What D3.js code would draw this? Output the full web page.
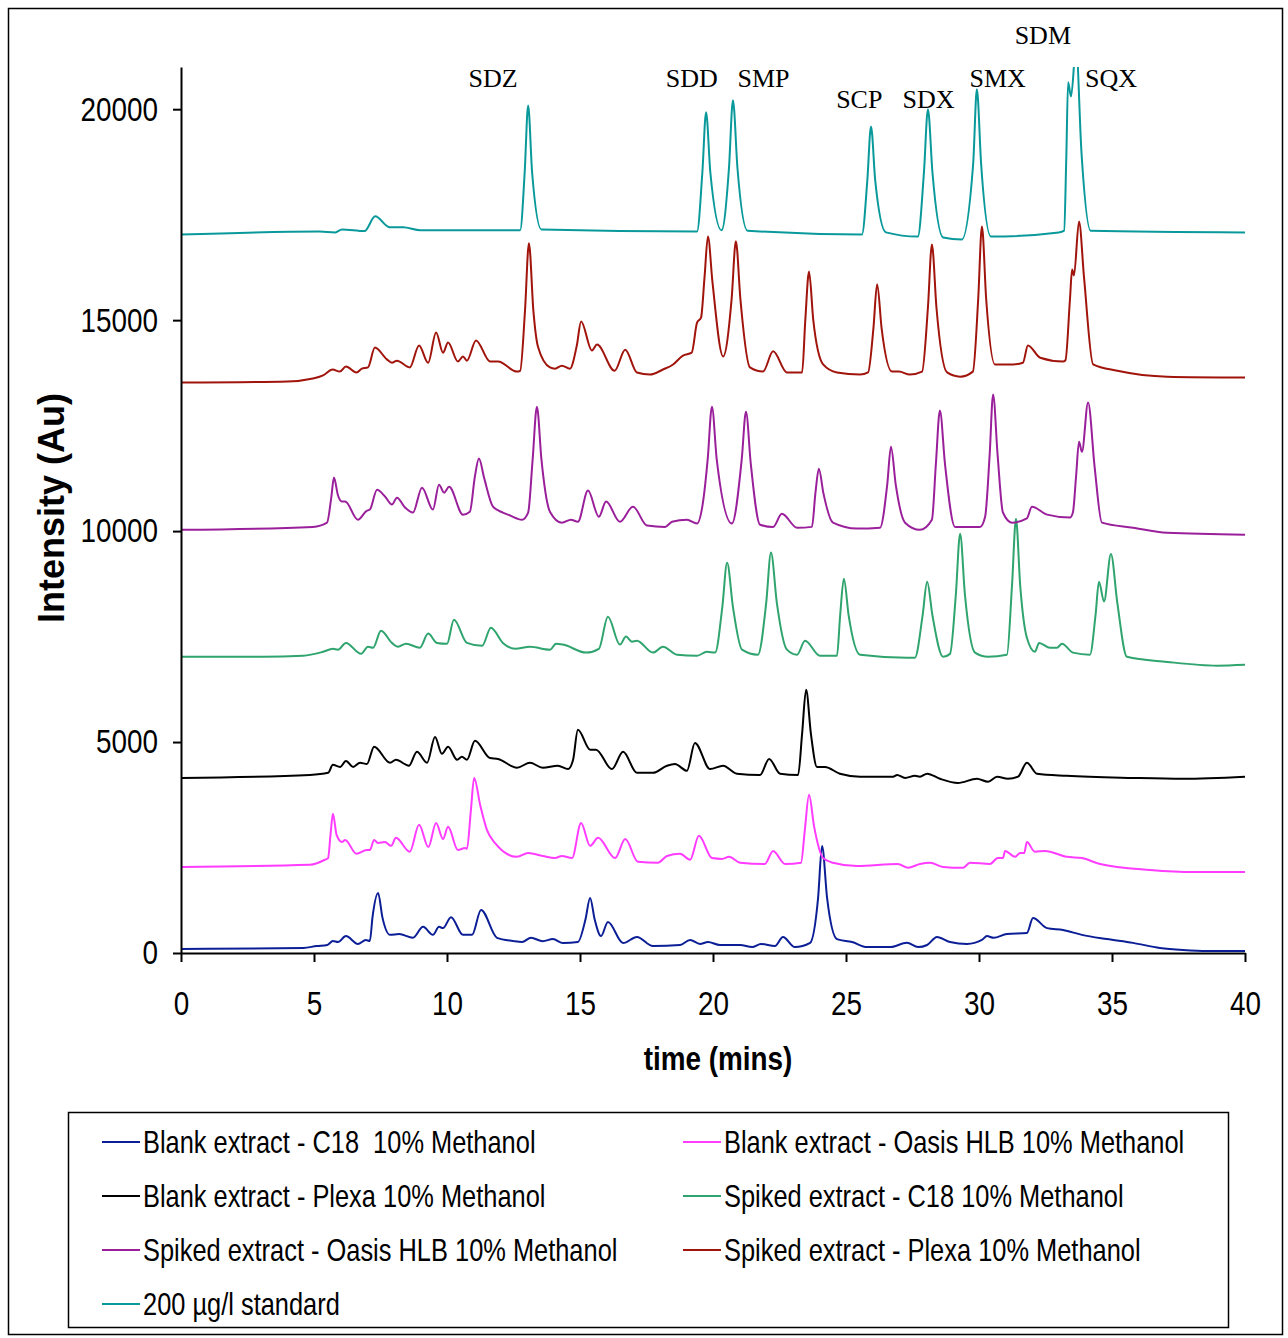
<!DOCTYPE html>
<html>
<head>
<meta charset="utf-8">
<script src="https://cdn.jsdelivr.net/npm/d3@7"></script>
<style>
	body { margin: 0; background: #fff; }
	.axis text { font-family: "Liberation Sans", Arial, sans-serif; font-size: 34px; fill: #000; }
	.axis path, .axis line { stroke: #000; stroke-width: 2px; }
	.trace { fill: none; stroke-width: 2px; stroke-linejoin: round; }
	.legend text { font-family: "Liberation Sans", Arial, sans-serif; font-size: 31px; white-space: pre; }
	.peak { font-family: "Liberation Serif", "Times New Roman", serif; font-size: 26px; }
</style>
</head>
<body>
<script>

// chromatogram traces, [time (mins), intensity (Au)]
var blankC18 = [[0,95],[4.6,120],[5.1,165],[5.5,190],[5.71,285],[5.9,260],[6.2,400],[6.65,215],[6.95,310],[7.1,285],
	[7.2,850],[7.41,1420],[7.57,850],[7.86,430],[8.2,450],[8.72,360],[9.1,620],[9.47,430],[9.7,620],[9.85,590],
	[10.15,850],[10.6,430],[10.94,430],[11.28,1020],[11.88,360],[12.48,285],[12.82,260],[13.16,360],[13.6,280],
	[13.98,330],[14.36,235],[14.92,260],[15.2,780],[15.38,1305],[15.55,800],[15.79,400],[16.05,735],[16.62,235],
	[17.14,380],[17.74,165],[18.76,190],[19.14,310],[19.51,215],[19.81,260],[20.26,190],[21.02,190],[21.47,140],
	[21.8,215],[22.33,165],[22.63,380],[23.08,140],[23.65,240],[23.95,1300],[24.1,2538],[24.29,1300],[24.66,330],
	[25.23,260],[25.79,140],[26.65,140],[27.29,240],[27.71,140],[28.05,190],[28.42,380],[28.91,260],[29.55,215],
	[30.11,310],[30.3,400],[30.55,360],[31.05,450],[31.8,475],[32.03,830],[32.56,590],[33.16,545],[33.87,430],
	[34.81,330],[35.79,240],[36.8,120],[37.67,70],[38.57,45],[40,45]];

var blankOasis = [[0,2040],[4.85,2090],[5.41,2210],[5.53,2250],[5.62,2800],[5.71,3300],[5.85,2800],[6.05,2630],
	[6.17,2680],[6.6,2350],[6.98,2440],[7.1,2440],[7.26,2680],[7.4,2610],[7.67,2630],[7.9,2540],[8.08,2730],
	[8.6,2400],[8.95,3040],[9.3,2510],[9.59,3080],[9.85,2700],[10.04,2990],[10.41,2440],[10.68,2490],[10.75,2470],
	[10.9,3400],[11.02,4150],[11.25,3500],[11.5,2920],[11.8,2610],[12.63,2280],[13.05,2370],[13.6,2300],[14.06,2250],
	[14.32,2300],[14.7,2250],[15.04,3080],[15.38,2540],[15.68,2730],[16.32,2250],[16.7,2700],[17.18,2160],[17.93,2140],
	[18.27,2300],[18.76,2350],[19.14,2210],[19.47,2780],[19.96,2250],[20.34,2230],[20.6,2280],[21.02,2140],[21.95,2110],
	[22.26,2420],[22.71,2110],[23.31,2140],[23.45,2900],[23.61,3750],[23.8,3000],[24.14,2250],[24.51,2140],[25.41,2060],
	[26.95,2110],[27.33,2020],[27.78,2110],[28.16,2140],[28.65,2040],[29.4,2020],[29.66,2140],[30.41,2110],[30.71,2250],
	[30.9,2250],[30.98,2420],[31.35,2280],[31.55,2370],[31.7,2370],[31.8,2630],[32.1,2400],[32.48,2420],[33.3,2280],
	[33.87,2250],[34.55,2110],[36.43,1970],[38.05,1920],[40,1920]];

var blankPlexa = [[0,4150],[4.85,4220],[5.53,4270],[5.71,4460],[5.98,4410],[6.2,4550],[6.47,4410],[6.73,4510],
	[6.99,4480],[7.26,4890],[7.86,4510],[8.08,4580],[8.57,4440],[8.87,4770],[9.25,4510],[9.55,5120],[9.81,4720],
	[10.04,4890],[10.38,4580],[10.56,4650],[10.75,4580],[11.05,5030],[11.62,4620],[11.92,4600],[12.63,4390],[13.12,4510],
	[13.6,4390],[14.17,4440],[14.55,4360],[14.74,4580],[14.92,5290],[15.38,4820],[15.6,4820],[16.2,4360],[16.62,4770],
	[17.14,4270],[17.74,4270],[18.27,4440],[18.57,4480],[19.02,4320],[19.32,4980],[19.89,4360],[20.38,4440],[20.9,4250],
	[21.77,4220],[22.11,4600],[22.52,4250],[23.2,4220],[23.35,5200],[23.5,6240],[23.68,5200],[23.91,4410],[24.21,4410],
	[24.77,4250],[25.53,4180],[26.77,4180],[26.92,4220],[27.22,4150],[27.59,4200],[27.78,4180],[28.05,4250],[28.53,4130],
	[29.21,4030],[29.92,4130],[30.34,4060],[30.68,4180],[31.09,4130],[31.47,4180],[31.8,4510],[32.18,4250],[33.3,4200],
	[35.79,4150],[37.67,4130],[40,4180]];

var spikedC18 = [[0,7020],[3.08,7020],[4.59,7045],[5.34,7140],[5.71,7210],[5.9,7190],[6.2,7350],[6.77,7090],
	[7.03,7260],[7.22,7235],[7.52,7640],[7.93,7350],[8.16,7260],[8.46,7330],[8.98,7235],[9.29,7570],[9.62,7350],
	[10.0,7330],[10.26,7900],[10.75,7350],[11.32,7280],[11.65,7710],[12.1,7350],[12.56,7210],[13.12,7260],[13.87,7190],
	[14.1,7330],[14.36,7310],[15.23,7120],[15.71,7210],[16.05,7970],[16.5,7310],[16.73,7500],[16.95,7380],[17.14,7400],
	[17.74,7120],[18.12,7260],[18.65,7070],[19.4,7045],[19.77,7140],[20.08,7120],[20.35,8200],[20.53,9250],[20.75,8200],
	[21.09,7190],[21.69,7070],[22.0,8300],[22.18,9490],[22.4,8300],[22.78,7190],[23.16,7070],[23.46,7400],[24.02,7045],
	[24.66,7045],[24.78,8000],[24.92,8870],[25.1,8000],[25.53,7070],[27.29,7000],[27.59,7000],[27.88,8000],[28.05,8800],
	[28.25,8000],[28.65,7020],[28.91,7090],[29.13,8500],[29.29,9940],[29.47,8500],[29.85,7120],[30.34,7020],[31.05,7070],
	[31.24,8700],[31.39,10290],[31.55,8700],[31.8,7470],[32.1,7140],[32.26,7350],[32.67,7235],[32.93,7235],[33.12,7330],
	[33.53,7120],[34.17,7070],[34.38,8000],[34.51,8800],[34.7,8330],[34.96,9460],[35.2,8300],[35.56,7020],[37.07,6900],
	[38.95,6810],[40,6830]];

var spikedOasis = [[0,10030],[4.96,10100],[5.49,10200],[5.65,10800],[5.75,11270],[5.9,10850],[6.05,10700],[6.17,10700],
	[6.65,10270],[6.98,10480],[7.1,10510],[7.37,10980],[7.67,10820],[7.93,10630],[8.12,10790],[8.42,10560],[8.72,10440],
	[9.06,11030],[9.47,10510],[9.7,11100],[9.89,10910],[10.08,11050],[10.6,10390],[10.86,10460],[11.05,11300],[11.2,11720],
	[11.4,11250],[11.73,10580],[12.1,10440],[12.37,10370],[12.82,10270],[13.05,10440],[13.22,11700],[13.38,12950],
	[13.55,11700],[13.87,10460],[14.32,10200],[14.66,10270],[14.92,10220],[15.3,10960],[15.71,10340],[15.98,10700],
	[16.5,10220],[16.99,10580],[17.52,10130],[18.2,10100],[18.46,10220],[19.02,10270],[19.4,10180],[19.62,10670],
	[19.8,11700],[19.96,12950],[20.14,11700],[20.71,10180],[21.08,11700],[21.24,12830],[21.42,11600],[21.77,10150],
	[22.26,10100],[22.59,10410],[23.16,10080],[23.72,10100],[23.85,10900],[23.98,11480],[24.15,10900],[24.51,10200],
	[25.41,10060],[26.28,10080],[26.55,11100],[26.69,12000],[26.87,11100],[27.22,10200],[27.78,10030],[28.23,10270],
	[28.38,11600],[28.53,12860],[28.72,11600],[29.1,10100],[30.04,10100],[30.23,10340],[30.4,11800],[30.53,13240],
	[30.7,11800],[30.9,10440],[31.24,10200],[31.8,10300],[31.99,10580],[32.56,10390],[33.42,10320],[33.53,10440],
	[33.65,11300],[33.76,12120],[33.87,11880],[34.1,13050],[34.35,11500],[34.62,10200],[35.79,10080],[37.07,9960],[40,9915]];

var spikedPlexa = [[0,13520],[4.0,13545],[4.96,13615],[5.34,13690],[5.7,13830],[5.97,13780],[6.2,13900],[6.6,13760],
	[6.8,13850],[7.03,13880],[7.29,14350],[7.74,14070],[7.93,13990],[8.12,14040],[8.6,13880],[8.95,14400],[9.29,13990],
	[9.59,14710],[9.85,14230],[10.04,14470],[10.41,14020],[10.6,14140],[10.75,14040],[11.09,14520],[11.62,14020],
	[11.92,14020],[12.63,13780],[12.75,13800],[12.93,15200],[13.08,16820],[13.25,15200],[13.42,14370],[13.87,13880],
	[14.06,13850],[14.32,13920],[14.62,13850],[14.88,14400],[15.04,14970],[15.45,14280],[15.64,14420],[16.3,13800],
	[16.7,14300],[17.14,13760],[17.63,13710],[18.12,13830],[18.5,13950],[18.87,14160],[19.2,14230],[19.4,14940],
	[19.55,15060],[19.68,16000],[19.81,16980],[19.98,15900],[20.38,14140],[20.7,15500],[20.86,16870],[21.03,15500],
	[21.39,13880],[21.88,13780],[22.26,14260],[22.78,13760],[23.35,13760],[23.47,15000],[23.61,16150],[23.77,15000],
	[24.14,13950],[24.66,13760],[25.53,13710],[25.83,13760],[26.03,14800],[26.17,15850],[26.34,14800],[26.73,13780],
	[26.99,13780],[27.4,13710],[27.86,13780],[28.08,15300],[28.23,16790],[28.4,15300],[28.8,13760],[29.29,13660],
	[29.77,13780],[29.97,15500],[30.11,17220],[30.27,15500],[30.6,13950],[31.28,13950],[31.65,13990],[31.84,14400],
	[32.3,14110],[33.16,14020],[33.25,14050],[33.42,15500],[33.5,16200],[33.57,16060],[33.76,17340],[33.95,16000],
	[34.29,13950],[35.2,13800],[37.07,13660],[40,13640]];

var standard200 = [[0,17030],[5.2,17100],[5.8,17080],[6.05,17150],[6.9,17110],[7.3,17460],[7.85,17200],[8.35,17200],
	[9.0,17130],[12.75,17130],[12.92,18500],[13.05,20090],[13.2,18500],[13.55,17150],[19.4,17100],[19.6,18500],
	[19.74,19930],[19.9,18500],[20.32,17130],[20.6,18600],[20.75,20210],[20.92,18600],[21.3,17120],[25.6,17030],
	[25.8,18300],[25.94,19590],[26.1,18300],[26.5,17080],[27.7,16980],[27.93,18500],[28.08,20000],[28.25,18500],
	[28.65,16960],[29.35,16910],[29.78,18700],[29.92,20470],[30.08,18700],[30.45,16980],[33.0,17080],[33.2,17120],
	[33.28,18800],[33.35,20640],[33.46,20300],[33.65,21500],[33.85,19000],[34.2,17120],[40,17080]];

var seriesNames = ["Blank extract - C18  10% Methanol", "Blank extract - Oasis HLB 10% Methanol",
	"Blank extract - Plexa 10% Methanol", "Spiked extract - C18 10% Methanol",
	"Spiked extract - Oasis HLB 10% Methanol", "Spiked extract - Plexa 10% Methanol", "200 \u00b5g/l standard"];
var seriesData = [blankC18, blankOasis, blankPlexa, spikedC18, spikedOasis, spikedPlexa, standard200];
var seriesColors = ["#0b1e96", "#ff3cff", "#000000", "#2fa46e", "#9a1f9a", "#a0140c", "#0a999b"];

// peak annotations: name, retention time and the level the label sits at
var peakNames = ["SDZ", "SDD", "SMP", "SCP", "SDX", "SMX", "SDM", "SQX"];
var peakTimes = [11.73, 19.2, 21.9, 25.5, 28.1, 30.7, 32.4, 34.96];
var peakLevels = [20750, 20750, 20750, 20250, 20250, 20750, 21770, 20750];

var xTicks = [0, 5, 10, 15, 20, 25, 30, 35, 40];
var yTicks = [0, 5000, 10000, 15000, 20000];

var W = 1288, H = 1338;
var plot = {left: 181, right: 1245, top: 67, bottom: 953};
var NARROW = 0.82;	// no Arial Narrow here, so squeeze Liberation Sans

// squeeze text horizontally, keeping its anchor where it was
function narrow(sel) {
	sel.each(function() {
		var t = d3.select(this);
		var x = +t.attr("x") || 0;
		t.attr("x", x / NARROW).attr("transform", "scale(" + NARROW + ",1)");
	});
}

var svg = d3.select("body").append("svg")
	.attr("width", W)
	.attr("height", H);

// outer frame
svg.append("rect")
	.attr("x", 8.5).attr("y", 8.5)
	.attr("width", 1274).attr("height", 1326)
	.attr("fill", "none").attr("stroke", "#000").attr("stroke-width", 1.5);

var xScale = d3.scaleLinear().domain([0, 40]).range([plot.left, plot.right]);
var yScale = d3.scaleLinear().domain([0, 21000]).range([plot.bottom, plot.top]);

svg.append("defs").append("clipPath").attr("id", "plotclip")
	.append("rect")
	.attr("x", plot.left).attr("y", plot.top)
	.attr("width", plot.right - plot.left).attr("height", plot.bottom - plot.top);

var line = d3.line()
	.x(function(d) { return xScale(d[0]); })
	.y(function(d) { return yScale(d[1]); })
	.curve(d3.curveMonotoneX);

var traces = svg.append("g").attr("clip-path", "url(#plotclip)");
seriesData.forEach(function(s, i) {
	traces.append("path")
		.datum(s)
		.attr("class", "trace")
		.attr("stroke", seriesColors[i])
		.attr("d", line);
});

// axes
var xAxis = svg.append("g")
	.attr("class", "axis")
	.attr("transform", "translate(0," + plot.bottom + ")")
	.call(d3.axisBottom(xScale).tickValues(xTicks).tickSize(9).tickSizeOuter(0).tickPadding(29).tickFormat(d3.format("d")));
narrow(xAxis.selectAll("text"));

var yAxis = svg.append("g")
	.attr("class", "axis")
	.attr("transform", "translate(" + plot.left + ",0)")
	.call(d3.axisLeft(yScale).tickValues(yTicks).tickSize(8).tickSizeOuter(0).tickPadding(15).tickFormat(d3.format("d")));
narrow(yAxis.selectAll("text"));

svg.append("text")
	.attr("x", 718).attr("y", 1070)
	.attr("text-anchor", "middle")
	.style("font-family", "'Liberation Sans', Arial, sans-serif")
	.style("font-weight", "bold").style("font-size", "34px")
	.text("time (mins)")
	.call(narrow);

svg.append("text")
	.attr("transform", "translate(64,508) rotate(-90)")
	.attr("text-anchor", "middle")
	.style("font-family", "'Liberation Sans', Arial, sans-serif")
	.style("font-weight", "bold").style("font-size", "36px")
	.text("Intensity (Au)");

// peak labels
svg.selectAll(".peak")
	.data(peakNames)
	.enter().append("text")
	.attr("class", "peak")
	.attr("x", function(d, i) { return xScale(peakTimes[i]); })
	.attr("y", function(d, i) { return yScale(peakLevels[i]) + 9; })
	.attr("text-anchor", "middle")
	.text(function(d) { return d; });

// legend
var legend = svg.append("g").attr("class", "legend");
legend.append("rect")
	.attr("x", 68.5).attr("y", 1112.5)
	.attr("width", 1160).attr("height", 215)
	.attr("fill", "none").attr("stroke", "#000").attr("stroke-width", 1.5);

seriesNames.forEach(function(name, i) {
	var col = i % 2, row = Math.floor(i / 2);
	var lx = col == 0 ? 102 : 683;
	var ly = 1142 + row * 54;
	legend.append("line")
		.attr("x1", lx).attr("x2", lx + 38)
		.attr("y1", ly).attr("y2", ly)
		.attr("stroke", seriesColors[i]).attr("stroke-width", 2);
	legend.append("text")
		.attr("x", lx + 41).attr("y", ly + 11)
		.text(name)
		.call(narrow);
});

</script>
</body>
</html>
